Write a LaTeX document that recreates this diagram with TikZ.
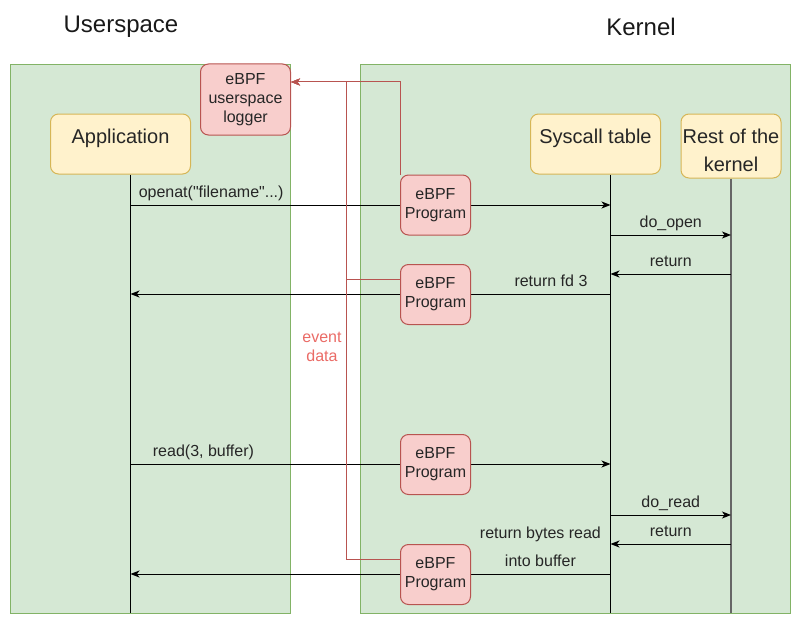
\documentclass[tikz,border=0pt]{standalone}
\usepackage{fontspec}
\setmainfont{Liberation Sans}
\newfontfamily\rawfont{Liberation Sans}
\usetikzlibrary{arrows.meta}
\definecolor{grpfill}{HTML}{D5E8D4}
\definecolor{grpline}{HTML}{82B366}
\definecolor{actfill}{HTML}{FFF2CC}
\definecolor{actline}{HTML}{D6B656}
\definecolor{bpffill}{HTML}{F8CECC}
\definecolor{bpfline}{HTML}{B85450}
\definecolor{evttext}{HTML}{EA6B66}

\begin{document}
\begin{tikzpicture}[x=1pt, y=-1pt, line width=1pt,
    grp/.style={draw=grpline, fill=grpfill, inner sep=0pt},
    actor/.style={draw=actline, fill=actfill, rounded corners=8pt, inner sep=0pt,
        font=\fontsize{20}{28}\selectfont, text=black!85, align=center},
    bpf/.style={draw=bpfline, fill=bpffill, rounded corners=8pt, inner sep=0pt,
        minimum width=70pt, minimum height=60pt, font=\fontsize{16}{19}\selectfont,
        text=black!85, align=center},
    msg/.style={-{Stealth[length=9pt,width=7pt,inset=2.5pt]}},
    lbl/.style={font=\fontsize{16}{28}\selectfont, text=black!85, inner sep=0pt,
        anchor=base, yshift=8pt},
    evt/.style={draw=bpfline}]
    \useasboundingbox (0,0) rectangle (801,626);

    \node[font=\fontsize{24}{28}\selectfont, text=black!90] (usertitle) at (121,27) {Userspace};
    \node[font=\fontsize{24}{28}\selectfont, text=black!90] (kerntitle) at (641,27) {Kernel};

    \node[grp, minimum width=280pt, minimum height=548pt] (userbox) at (150.5,339) {};
    \node[grp, minimum width=430pt, minimum height=548pt] (kernbox) at (575.5,339) {};

    \node[bpf, minimum width=90pt, minimum height=71pt] (logger) at (245.5,99.5) {eBPF\\userspace\\logger};
    \node[actor, minimum width=140pt, minimum height=60pt, text height=15pt, text depth=17pt] (app) at (120.5,144) {Application};
    \node[actor, minimum width=130pt, minimum height=60pt, text height=15pt, text depth=17pt] (sys) at (595.5,144) {Syscall table};
    \node[actor, minimum width=100pt, minimum height=64pt] (rest) at (731,146) {\rule{0pt}{23pt}Rest of the\\kernel};

    \foreach \n/\y in {1/205,2/235,3/274,4/294,5/464,6/515,7/544,8/574} {
        \coordinate (app\n) at (130.5,\y);
        \coordinate (sys\n) at (610.5,\y);
        \coordinate (rest\n) at (731,\y);
    }
    \coordinate (append) at (130.5,613);
    \coordinate (sysend) at (610.5,613);
    \coordinate (restend) at (731,613);

    \draw (app.south -| append) -- (append);
    \draw (sys.south -| sysend) -- (sysend);
    \draw[draw=black!60, line width=2pt] (rest.south) -- (restend);

    \draw[msg] (app1) -- (sys1) node[lbl, pos=0.168] {\rawfont openat("filename"...)};
    \draw[msg] (sys2) -- (rest2) node[lbl, pos=0.5] {do\_open};
    \draw[msg] (rest3) -- (sys3) node[lbl, pos=0.5] {return};
    \draw[msg] (sys4) -- (app4) node[lbl, pos=0.124] {return fd 3};
    \draw[msg] (app5) -- (sys5) node[lbl, pos=0.152] {read(3, buffer)};
    \draw[msg] (sys6) -- (rest6) node[lbl, pos=0.5] {do\_read};
    \draw[msg] (rest7) -- (sys7) node[lbl, pos=0.5] {return};
    \draw[msg] (sys8) -- (app8) node[lbl, pos=0.146, align=center] {return bytes read\\into buffer};

    \node[bpf] (ebpf1) at (435.5,205) {eBPF\\Program};
    \node[bpf] (ebpf2) at (435.5,294.5) {eBPF\\Program};
    \node[bpf] (ebpf3) at (435.5,464.5) {eBPF\\Program};
    \node[bpf] (ebpf4) at (435.5,574.5) {eBPF\\Program};

    \draw[evt, msg] (ebpf1.north west) |- ([yshift=17.5pt]logger.east);
    \draw[evt, msg] ([yshift=15pt]ebpf2.west) -- ++(-54,0) |- ([yshift=17.5pt]logger.east);
    \draw[evt, msg] ([yshift=15pt]ebpf4.west) -- ++(-54,0) |- ([yshift=17.5pt]logger.east);

    \node[font=\fontsize{16}{19}\selectfont, text=evttext, align=center] (evtlbl) at (322,347) {event\\data};
\end{tikzpicture}
\end{document}
